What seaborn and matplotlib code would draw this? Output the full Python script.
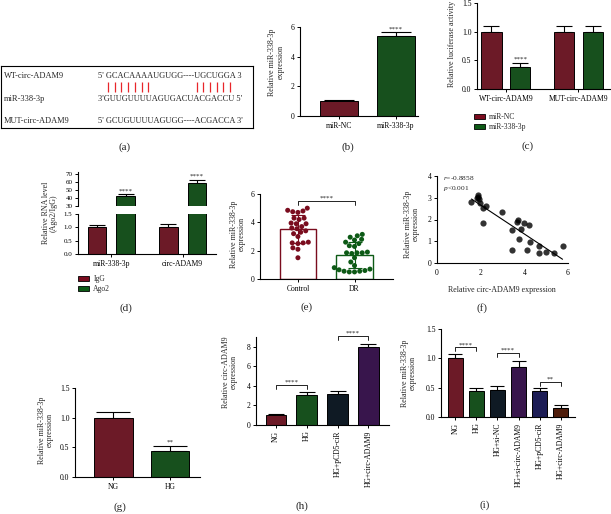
import numpy as np
import pandas as pd
import matplotlib.pyplot as plt
import seaborn as sns
from matplotlib.patches import Patch
from matplotlib.ticker import FormatStrFormatter

sns.set_style('ticks')
plt.rcParams['font.family'] = ['Liberation Serif', 'DejaVu Serif']
plt.rcParams['mathtext.fontset'] = 'custom'
plt.rcParams['mathtext.rm'] = 'Liberation Serif'
plt.rcParams['mathtext.it'] = 'Liberation Serif:italic'

RED = '#7a0c1e'
GREEN = '#0d5a16'
NAVY = '#0b1a28'
PURPLE = '#3b0c55'
BLUE = '#13135e'
BROWN = '#5a1800'

# ---- data ----
# (b)
b_groups = ['miR-NC', 'miR-338-3p']
b_vals = [1.0, 5.38]
b_err = [0.05, 0.27]

# (c)
c_sites = ['WT-circ-ADAM9', 'WT-circ-ADAM9', 'MUT-circ-ADAM9', 'MUT-circ-ADAM9']
c_treat = ['miR-NC', 'miR-338-3p', 'miR-NC', 'miR-338-3p']
c_vals = [1.0, 0.38, 1.0, 1.0]
c_err = [0.1, 0.07, 0.1, 0.1]

# (d)
d_rna = ['miR-338-3p', 'miR-338-3p', 'circ-ADAM9', 'circ-ADAM9']
d_ab = ['IgG', 'Ago2', 'IgG', 'Ago2']
d_vals = [1.0, 42.0, 1.0, 58.5]
d_err = [0.1, 3.0, 0.12, 4.0]

# (e)
e_control = [5.0, 4.85, 4.8, 4.75, 4.7, 4.3, 4.2, 4.3, 3.9, 3.9, 3.95, 3.6, 3.55,
             3.7, 3.3, 3.2, 3.4, 3.0, 2.55, 2.6, 2.55, 2.5, 2.1, 2.2, 1.5]
e_dr = [3.15, 3.05, 2.95, 2.8, 2.75, 2.6, 2.5, 2.35, 2.3, 1.9, 1.85, 1.85, 1.85,
        1.8, 1.5, 1.2, 0.95, 0.8, 0.7, 0.65, 0.6, 0.55, 0.5, 0.5, 0.55]

# (f)
f_circ = [1.58, 1.84, 1.87, 1.90, 1.93, 1.96, 2.12, 2.24, 2.12, 2.96, 3.70, 3.68, 3.45,
          3.99, 3.87, 3.77, 4.23, 4.26, 3.42, 4.11, 4.66, 4.69, 4.98, 5.34, 5.75]
f_mir = [2.79, 2.98, 3.13, 3.05, 2.93, 2.75, 2.52, 2.60, 1.83, 2.34, 2.00, 1.87, 1.50,
         1.85, 1.56, 1.12, 1.76, 0.95, 0.62, 0.58, 0.78, 0.47, 0.52, 0.44, 0.78]

# (g)
g_groups = ['NG', 'HG']
g_vals = [1.0, 0.44]
g_err = [0.1, 0.09]

# (h)
h_groups = ['NG', 'HG', 'HG+pCD5-ciR', 'HG+circ-ADAM9']
h_vals = [1.0, 3.1, 3.2, 8.0]
h_err = [0.12, 0.25, 0.25, 0.3]

# (i)
i_groups = ['NG', 'HG', 'HG+si-NC', 'HG+si-circ-ADAM9', 'HG+pCD5-ciR', 'HG+circ-ADAM9']
i_vals = [1.0, 0.45, 0.46, 0.86, 0.44, 0.16]
i_err = [0.07, 0.05, 0.07, 0.09, 0.05, 0.04]

W, H = 611, 514
fig = plt.figure(figsize=(W / 100, H / 100), dpi=100)

TICK = 5.5
LAB = 5.8


def add_ax(l, t, r, b):
    return fig.add_axes([l / W, 1 - b / H, (r - l) / W, (b - t) / H])


def style(ax, fs=TICK):
    sns.despine(ax=ax)
    for s in ['left', 'bottom']:
        ax.spines[s].set_linewidth(0.8)
        ax.spines[s].set_color('black')
    ax.tick_params(labelsize=fs, length=2.5, width=0.7, pad=1.5, colors='black')
    ax.set_xlabel('')
    ax.set_ylabel('')


def ftext(x, y, s, **kw):
    fig.text(x / W, 1 - y / H, s, **kw)


def ylab(x, y, s):
    ftext(x, y, s, rotation=90, ha='center', va='center', fontsize=LAB, linespacing=1.0)


def add_err(ax, df, hue, levels, cap):
    for cont, lev in zip(ax.containers, levels):
        sub = df[df[hue] == lev]
        xs = [b.get_x() + b.get_width() / 2 for b in cont]
        ys = [b.get_height() for b in cont]
        ax.errorbar(xs, ys, yerr=[np.zeros(len(ys)), sub['e'].values], fmt='none',
                    ecolor='black', elinewidth=0.8, capsize=cap, capthick=0.8, zorder=1)


def bar_panel(ax, groups, vals, errs, colors, width, cap):
    df = pd.DataFrame({'g': groups, 'v': vals, 'e': errs})
    sns.barplot(data=df, x='g', y='v', hue='g', palette=colors, legend=False, width=width,
                edgecolor='black', linewidth=0.7, errorbar=None, ax=ax, zorder=2)
    add_err(ax, df, 'g', groups, cap)
    style(ax)


def bracket(ax, x1, x2, y, drop, label, fs=5):
    ax.plot([x1, x1, x2, x2], [y - drop, y, y, y - drop], color='black', lw=0.6, clip_on=False)
    ax.text((x1 + x2) / 2, y, label, ha='center', va='bottom', fontsize=fs, clip_on=False)


def legend_at(ax, colors, labels, x, y):
    ax.legend([Patch(facecolor=c, edgecolor='black', lw=0.6) for c in colors], labels,
              loc='upper left', bbox_to_anchor=(x / W, 1 - y / H),
              bbox_transform=fig.transFigure, frameon=False, fontsize=TICK, handlelength=1.4,
              handleheight=0.7, labelspacing=0.25, handletextpad=0.6, borderpad=0,
              borderaxespad=0)


# ---- (a) sequence box ----
ax = add_ax(1, 66, 253, 128)
ax.set_xlim(1, 253)
ax.set_ylim(128, 66)
ax.set_xticks([])
ax.set_yticks([])
for s in ax.spines.values():
    s.set_linewidth(0.8)
    s.set_color('black')
rows = [('WT-circ-ADAM9', "5' GCACAAAAUGUGG----UGCUGGA 3", 76),
        ('miR-338-3p', "3'GUUGUUUUAGUGACUACGACCU 5'", 99),
        ('MUT-circ-ADAM9', "5' GCUGUUUUAGUGG----ACGACCA 3'", 121)]
for name, seq, y in rows:
    ax.text(4, y, name, fontsize=6, va='center')
    ax.text(98, y, seq, fontsize=6, va='center')
pairs = np.concatenate([108 + 6.7 * np.arange(7), 196.5 + 6.7 * np.arange(6)])
ax.vlines(pairs, 82, 92, color='#e8262a', lw=0.9)
ftext(125, 147, '(a)', fontsize=8, ha='center', va='center')

# ---- (b) ----
ax = add_ax(300, 27, 418, 116)
bar_panel(ax, b_groups, b_vals, b_err, [RED, GREEN], 0.67, 11)
ax.set_xlim(-0.68, 1.39)
ax.set_ylim(0, 6)
ax.set_yticks([0, 2, 4, 6])
ax.text(1, b_vals[1] + b_err[1] + 0.05, '****', ha='center', va='bottom', fontsize=5)
ylab(276.5, 62, 'Relative miR-338-3p\nexpression')
ftext(348, 147, '(b)', fontsize=8, ha='center', va='center')

# ---- (c) ----
ax = add_ax(477, 3, 610, 89)
c_df = pd.DataFrame({'site': c_sites, 'treat': c_treat, 'v': c_vals, 'e': c_err})
sns.barplot(data=c_df, x='site', y='v', hue='treat', palette=[RED, GREEN], gap=0.3,
            edgecolor='black', linewidth=0.7, errorbar=None, legend=False, ax=ax, zorder=2)
add_err(ax, c_df, 'treat', ['miR-NC', 'miR-338-3p'], 6)
style(ax)
ax.set_xlim(-0.40, 1.44)
ax.set_ylim(0, 1.5)
ax.set_yticks([0, 0.5, 1.0, 1.5])
ax.yaxis.set_major_formatter(FormatStrFormatter('%.1f'))
ax.text(0.2, c_vals[1] + c_err[1] + 0.02, '****', ha='center', va='bottom', fontsize=5)
ylab(452, 44, 'Relative luciferase activity')
legend_at(ax, [RED, GREEN], ['miR-NC', 'miR-338-3p'], 474, 113)
ftext(528, 146, '(c)', fontsize=8, ha='center', va='center')

# ---- (d) broken axis ----
d_df = pd.DataFrame({'rna': d_rna, 'ab': d_ab, 'v': d_vals, 'e': d_err})
ax_lo = add_ax(78, 214, 216, 254)
ax_hi = add_ax(78, 172, 216, 206)
for a in (ax_lo, ax_hi):
    sns.barplot(data=d_df, x='rna', y='v', hue='ab', palette=[RED, GREEN], gap=0.35,
                edgecolor='black', linewidth=0.7, errorbar=None, legend=False, ax=a, zorder=2)
    add_err(a, d_df, 'ab', ['IgG', 'Ago2'], 6)
    style(a, fs=5)
    a.set_xlim(-0.47, 1.47)
ax_lo.tick_params(axis='x', labelsize=TICK)
ax_lo.set_ylim(0, 1.5)
ax_lo.set_yticks([0, 0.5, 1.0, 1.5])
ax_lo.yaxis.set_major_formatter(FormatStrFormatter('%.1f'))
ax_hi.set_ylim(30, 72)
ax_hi.set_yticks([30, 40, 50, 60, 70])
ax_hi.spines['bottom'].set_visible(False)
ax_hi.tick_params(axis='x', bottom=False, labelbottom=False)
for k, (v, e) in enumerate(zip(d_vals[1::2], d_err[1::2])):
    ax_hi.text(k + 0.2, v + e + 0.8, '****', ha='center', va='bottom', fontsize=5, clip_on=False)
ylab(50, 213, 'Relative RNA level\n(Ago2/IgG)')
legend_at(ax_lo, [RED, GREEN], ['IgG', 'Ago2'], 78, 275)
ftext(126, 308, '(d)', fontsize=8, ha='center', va='center')

# ---- (e) ----
ax = add_ax(260, 194, 393, 279)
e_df = pd.DataFrame({'grp': ['Control'] * len(e_control) + ['DR'] * len(e_dr),
                     'val': e_control + e_dr})
sns.barplot(data=e_df, x='grp', y='val', hue='grp', palette=[RED, GREEN], fill=False,
            errorbar=None, width=0.65, linewidth=1.0, legend=False, ax=ax)
stats = e_df.groupby('grp', sort=False)['val'].agg(['mean', 'std'])
for k, (col, (_, row)) in enumerate(zip([RED, GREEN], stats.iterrows())):
    ax.errorbar(k, row['mean'], yerr=row['std'], fmt='none', ecolor=col, elinewidth=0.8,
                capsize=5, capthick=0.8)
sns.swarmplot(data=e_df, x='grp', y='val', hue='grp', palette=[RED, GREEN], size=3.6,
              legend=False, ax=ax, zorder=3)
style(ax)
ax.set_xlim(-0.67, 1.68)
ax.set_ylim(0, 6)
ax.set_yticks([0, 2, 4, 6])
bracket(ax, 0, 1, 5.5, 0.3, '****')
ylab(237.5, 234, 'Relative miR-338-3p\nexpression')
ftext(307, 307, '(e)', fontsize=8, ha='center', va='center')

# ---- (f) ----
ax = add_ax(437, 176, 568, 263)
sns.regplot(x=f_circ, y=f_mir, ci=None, color='black', truncate=True,
            scatter_kws={'s': 20, 'linewidths': 0}, line_kws={'lw': 0.8}, ax=ax)
style(ax)
ax.set_xlim(0, 6)
ax.set_ylim(0, 4)
ax.set_xticks([0, 2, 4, 6])
ax.set_yticks([0, 1, 2, 3, 4])
ax.tick_params(axis='x', length=0, pad=4)
ax.text(0.28, 3.92, '$r$=-0.8858', fontsize=5.3, va='center')
ax.text(0.28, 3.44, '$p$<0.001', fontsize=5.3, va='center')
ylab(412, 224, 'Relative miR-338-3p\nexpression')
ftext(502, 290, 'Relative circ-ADAM9 expression', fontsize=LAB, ha='center', va='center')
ftext(482, 308, '(f)', fontsize=8, ha='center', va='center')

# ---- (g) ----
ax = add_ax(75, 388, 200, 477)
bar_panel(ax, g_groups, g_vals, g_err, [RED, GREEN], 0.67, 12)
ax.set_xlim(-0.675, 1.52)
ax.set_ylim(0, 1.5)
ax.set_yticks([0, 0.5, 1.0, 1.5])
ax.yaxis.set_major_formatter(FormatStrFormatter('%.1f'))
ax.text(1, g_vals[1] + g_err[1] + 0.01, '**', ha='center', va='bottom', fontsize=5)
ylab(45.5, 430, 'Relative miR-338-3p\nexpression')
ftext(120, 507, '(g)', fontsize=8, ha='center', va='center')

# ---- (h) ----
ax = add_ax(256, 337, 389, 425)
bar_panel(ax, h_groups, h_vals, h_err, [RED, GREEN, NAVY, PURPLE], 0.68, 6)
ax.set_xlim(-0.65, 3.67)
ax.set_ylim(0, 9)
ax.set_yticks([0, 2, 4, 6, 8])
ax.tick_params(axis='x', labelrotation=90)
bracket(ax, 0, 1, 4.1, 0.45, '****')
bracket(ax, 2, 3, 9.1, 0.45, '****')
ylab(230, 372, 'Relative circ-ADAM9\nexpression')
ftext(302, 506, '(h)', fontsize=8, ha='center', va='center')

# ---- (i) ----
ax = add_ax(441, 329, 575, 417)
bar_panel(ax, i_groups, i_vals, i_err, [RED, GREEN, NAVY, PURPLE, BLUE, BROWN], 0.69, 5)
ax.set_xlim(-0.69, 5.69)
ax.set_ylim(0, 1.5)
ax.set_yticks([0, 0.5, 1.0, 1.5])
ax.yaxis.set_major_formatter(FormatStrFormatter('%.1f'))
ax.tick_params(axis='x', labelrotation=90)
bracket(ax, 0, 1, 1.19, 0.07, '****')
bracket(ax, 2, 3, 1.09, 0.07, '****')
bracket(ax, 4, 5, 0.60, 0.07, '**')
ylab(409, 373, 'Relative miR-338-3p\nexpression')
ftext(485, 505, '(i)', fontsize=8, ha='center', va='center')

fig.savefig('out.png', dpi=100)
